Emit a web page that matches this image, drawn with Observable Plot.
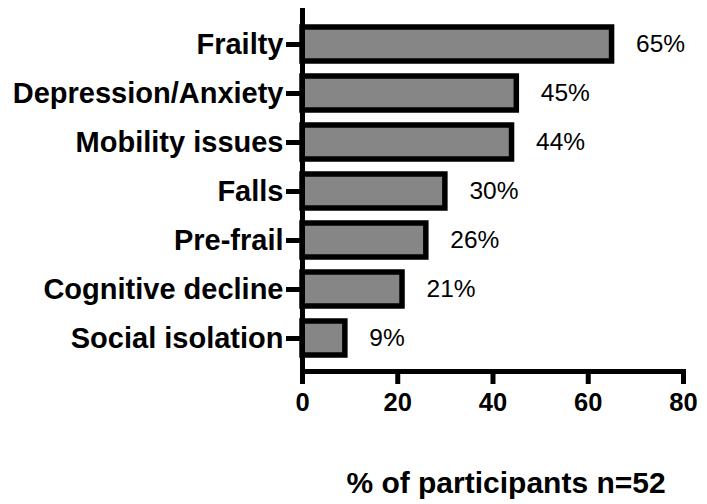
<!DOCTYPE html>
<html>
<head>
<meta charset="utf-8">
<script src="https://cdn.jsdelivr.net/npm/d3@7"></script>
<script src="https://cdn.jsdelivr.net/npm/@observablehq/plot@0.6"></script>
<style>
  html, body { margin: 0; padding: 0; background: white; }
</style>
</head>
<body>
<div id="chart"></div>
<script>
const categories = ["Frailty", "Depression/Anxiety", "Mobility issues", "Falls", "Pre-frail", "Cognitive decline", "Social isolation"];
const values = [65, 45, 44, 30, 26, 21, 9];
const xTicks = [0, 20, 40, 60, 80];
const xTitle = "% of participants n=52";

const data = categories.map((c, i) => ({category: c, value: values[i]}));

const chart = Plot.plot({
  width: 707,
  height: 504,
  marginLeft: 302,
  marginRight: 24,
  marginTop: 10,
  marginBottom: 133,
  style: {fontFamily: "'Liberation Sans', Arial, sans-serif", background: "white", color: "black"},
  x: {domain: [0, 80]},
  y: {domain: categories, paddingInner: 0.3, paddingOuter: 0.15, insetTop: 9.5, insetBottom: 8.5},
  marks: [
    Plot.barX(data, {x: "value", y: "category", fill: "#868686", stroke: "black", strokeWidth: 5.5}),
    Plot.text(data, {x: "value", y: "category", text: d => d.value + "%", dx: 24, textAnchor: "start", fontSize: 24.5, fill: "black"}),
    Plot.axisY({tickSize: 16, tickPadding: 3, fontSize: 29, fontWeight: "bold", strokeWidth: 5, label: null}),
    Plot.axisX({ticks: xTicks, tickSize: 13, tickPadding: 8, fontSize: 25.5, fontWeight: "bold", strokeWidth: 5, label: null}),
    Plot.frame({anchor: "left", strokeWidth: 5, strokeLinecap: "square"}),
    Plot.frame({anchor: "bottom", strokeWidth: 5, strokeLinecap: "square"}),
    Plot.text([xTitle], {frameAnchor: "bottom", dy: 121, dx: 13, fontSize: 30, fontWeight: "bold", fill: "black"})
  ]
});
document.getElementById("chart").appendChild(chart);
</script>
</body>
</html>
